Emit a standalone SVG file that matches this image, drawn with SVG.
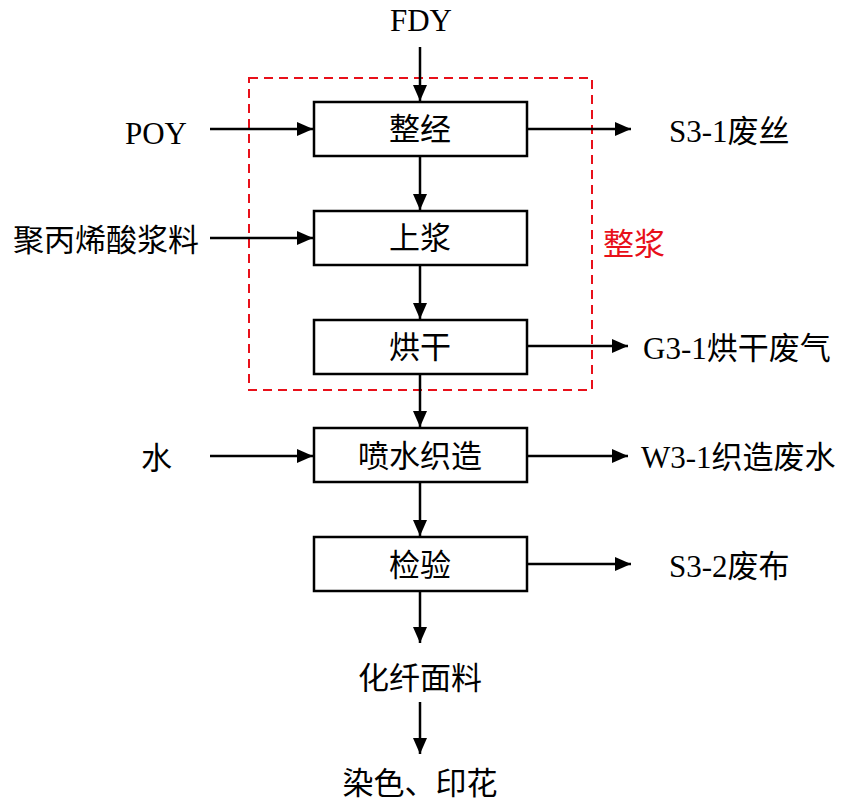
<svg xmlns="http://www.w3.org/2000/svg" width="841" height="803" viewBox="0 0 841 803">
<defs>
<marker id="ah" markerWidth="16" markerHeight="14" refX="16" refY="7" orient="auto" markerUnits="userSpaceOnUse">
<path d="M0,0 L16,7 L0,14 Z" fill="#000"/>
</marker>
<style>
.box{fill:#fff;stroke:#000;stroke-width:2.5}
.t{font-family:"Liberation Serif","Noto Sans CJK SC",serif;font-size:31px;fill:#000}
.c{text-anchor:middle}
.e{text-anchor:end}
.ln{stroke:#000;stroke-width:2.5;fill:none;marker-end:url(#ah)}
</style>
</defs>
<rect width="841" height="803" fill="#fff"/>
<rect x="249" y="78" width="343" height="312" fill="none" stroke="#e8101a" stroke-width="2" stroke-dasharray="9,6"/>
<g id="connectors">
<line class="ln" x1="420" y1="47" x2="420" y2="101"/>
<line class="ln" x1="210" y1="129" x2="313" y2="129"/>
<line class="ln" x1="527" y1="129" x2="631" y2="129"/>
<line class="ln" x1="420" y1="156" x2="420" y2="210"/>
<line class="ln" x1="210" y1="238" x2="313" y2="238"/>
<line class="ln" x1="420" y1="265" x2="420" y2="319"/>
<line class="ln" x1="527" y1="346" x2="628" y2="346"/>
<line class="ln" x1="420" y1="374" x2="420" y2="427"/>
<line class="ln" x1="210" y1="456" x2="313" y2="456"/>
<line class="ln" x1="527" y1="456" x2="628" y2="456"/>
<line class="ln" x1="420" y1="482" x2="420" y2="536"/>
<line class="ln" x1="527" y1="564" x2="631" y2="564"/>
<line class="ln" x1="420" y1="591" x2="420" y2="643"/>
<line class="ln" x1="420" y1="702" x2="420" y2="754"/>
</g>
<g id="n_zhengjing"><rect class="box" x="314" y="102" width="213" height="54"/><text class="t c" x="420" y="140">整经</text></g>
<g id="n_shangjiang"><rect class="box" x="314" y="211" width="213" height="54"/><text class="t c" x="420" y="249">上浆</text></g>
<g id="n_honggan"><rect class="box" x="314" y="320" width="213" height="54"/><text class="t c" x="420" y="358">烘干</text></g>
<g id="n_penshui"><rect class="box" x="314" y="428" width="213" height="54"/><text class="t c" x="420" y="467">喷水织造</text></g>
<g id="n_jianyan"><rect class="box" x="314" y="537" width="213" height="54"/><text class="t c" x="420" y="576">检验</text></g>
<g id="n_fdy"><text class="t c" x="421" y="31">FDY</text></g>
<g id="n_poy"><text class="t e" x="187" y="144">POY</text></g>
<g id="n_jiangliao"><text class="t e" x="199" y="251">聚丙烯酸浆料</text></g>
<g id="n_shui"><text class="t e" x="172" y="469">水</text></g>
<g id="n_s31"><text class="t" x="669" y="142">S3-1废丝</text></g>
<g id="n_g31"><text class="t" x="643" y="359">G3-1烘干废气</text></g>
<g id="n_w31"><text class="t" x="641" y="468">W3-1织造废水</text></g>
<g id="n_s32"><text class="t" x="669" y="577">S3-2废布</text></g>
<g id="n_zhengjiang"><text class="t" x="603" y="255" style="fill:#e8101a">整浆</text></g>
<g id="n_mianliao"><text class="t c" x="420" y="689">化纤面料</text></g>
<g id="n_ranse"><text class="t c" x="420" y="794">染色、印花</text></g>
</svg>
